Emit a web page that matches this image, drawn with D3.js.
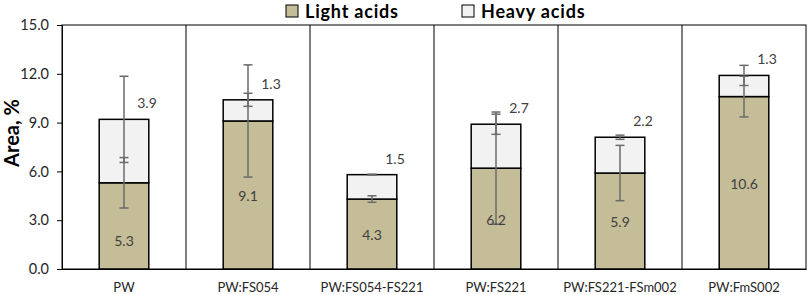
<!DOCTYPE html>
<html>
<head>
<meta charset="utf-8">
<script src="https://cdn.jsdelivr.net/npm/d3@7"></script>
<style>
  html, body { margin: 0; padding: 0; background: #fff; }
  svg { display: block; font-family: Lato, "Open Sans", sans-serif; }
</style>
</head>
<body>
<svg id="chart" width="809" height="295"></svg>
<script>
const categories = ["PW", "PW:FS054", "PW:FS054-FS221", "PW:FS221", "PW:FS221-FSm002", "PW:FmS002"];
const lightAcids = [5.3, 9.1, 4.3, 6.2, 5.9, 10.6];
const heavyAcids = [3.9, 1.3, 1.5, 2.7, 2.2, 1.3];
const lightErr = [1.55, 3.45, 0.2, 3.45, 1.7, 1.25];
const heavyErr = [2.65, 0.4, 0.03, 0.62, 0.13, 0.62];
const lightLabelAt = [1.7, 4.5, 2.1, 3.0, 2.9, 5.2];
const yTicks = [0, 3, 6, 9, 12, 15];
const seriesNames = ["Light acids", "Heavy acids"];

const colors = { light: "#c4bd97", heavy: "#f2f2f2" };

const svg = d3.select("#chart");
const pLeft = 62, pRight = 806, pTop = 25, pBottom = 269;

const x = d3.scaleBand().domain(categories).range([pLeft, pRight]).padding(0);
const y = d3.scaleLinear().domain([0, 15]).range([pBottom, pTop]);
const bw = x.bandwidth() * 0.4;

// frame
svg.append("rect").attr("x", pLeft).attr("y", pTop)
  .attr("width", pRight - pLeft).attr("height", pBottom - pTop)
  .attr("fill", "none").attr("stroke", "#000").attr("stroke-width", 1);

// group separators
svg.selectAll("line.sep").data(categories.slice(1)).enter().append("line")
  .attr("class", "sep")
  .attr("x1", d => x(d)).attr("x2", d => x(d))
  .attr("y1", pTop).attr("y2", pBottom)
  .attr("stroke", "#000").attr("stroke-width", 1);

// y axis
const yAxis = d3.axisLeft(y).tickValues(yTicks).tickFormat(d3.format(".1f")).tickSize(5).tickPadding(8);
const gy = svg.append("g").attr("transform", `translate(${pLeft},0)`).call(yAxis);
gy.select(".domain").attr("stroke", "#000");
gy.selectAll(".tick line").attr("stroke", "#000");
gy.selectAll(".tick text").attr("font-size", 14.5).attr("fill", "#262626").attr("font-family", "Lato, sans-serif");

// x labels
const xAxis = d3.axisBottom(x).tickSize(0).tickPadding(14);
const gx = svg.append("g").attr("transform", `translate(0,${pBottom})`).call(xAxis);
gx.select(".domain").attr("stroke", "#000");
gx.selectAll(".tick text").attr("font-size", 13).attr("fill", "#262626").attr("font-family", "Lato, sans-serif");

// bars
const data = categories.map((c, i) => ({ c, l: lightAcids[i], h: heavyAcids[i], le: lightErr[i], he: heavyErr[i], la: lightLabelAt[i] }));

const g = svg.append("g");
g.selectAll("rect.light").data(data).enter().append("rect")
  .attr("x", d => x(d.c) + x.bandwidth() / 2 - bw / 2)
  .attr("width", bw)
  .attr("y", d => y(d.l))
  .attr("height", d => y(0) - y(d.l))
  .attr("fill", colors.light).attr("stroke", "#000").attr("stroke-width", 1.5);

g.selectAll("rect.heavy").data(data).enter().append("rect")
  .attr("x", d => x(d.c) + x.bandwidth() / 2 - bw / 2)
  .attr("width", bw)
  .attr("y", d => y(d.l + d.h))
  .attr("height", d => y(d.l) - y(d.l + d.h))
  .attr("fill", colors.heavy).attr("stroke", "#000").attr("stroke-width", 1.5);

// error bars
function errBar(cx, center, err) {
  const eg = svg.append("g").attr("stroke", "#6b6b6b").attr("stroke-width", 1.5);
  eg.append("line").attr("x1", cx).attr("x2", cx).attr("y1", y(center - err)).attr("y2", y(center + err));
  [center - err, center + err].forEach(v => {
    eg.append("line").attr("x1", cx - 4.5).attr("x2", cx + 4.5).attr("y1", y(v)).attr("y2", y(v));
  });
}
data.forEach(d => {
  const cx = x(d.c) + x.bandwidth() / 2;
  errBar(cx, d.l, d.le);
  errBar(cx, d.l + d.h, d.he);
});

// labels
svg.selectAll("text.ll").data(data).enter().append("text")
  .attr("x", d => x(d.c) + x.bandwidth() / 2)
  .attr("y", d => y(d.la))
  .attr("dy", "0.35em")
  .attr("text-anchor", "middle")
  .attr("font-size", 14).attr("fill", "#404040")
  .text(d => d3.format(".1f")(d.l));

svg.selectAll("text.hl").data(data).enter().append("text")
  .attr("x", d => x(d.c) + x.bandwidth() / 2 + 23)
  .attr("y", d => y(d.l + d.h) - 16)
  .attr("dy", "0.35em")
  .attr("text-anchor", "middle")
  .attr("font-size", 14).attr("fill", "#404040")
  .text(d => d3.format(".1f")(d.h));

// y title
svg.append("text")
  .attr("transform", "translate(19,133) rotate(-90)")
  .attr("text-anchor", "middle")
  .attr("font-size", 20).attr("font-weight", "bold").attr("fill", "#000")
  .text("Area, %");

// legend
const legendX = [286, 462];
const legendColors = [colors.light, colors.heavy];
const lg = svg.selectAll("g.leg").data(seriesNames).enter().append("g")
  .attr("transform", (d, i) => `translate(${legendX[i]},5)`);
lg.append("rect").attr("width", 12).attr("height", 12)
  .attr("fill", (d, i) => legendColors[i]).attr("stroke", "#000").attr("stroke-width", 1);
lg.append("text").attr("x", 19).attr("y", 13)
  .attr("font-size", 18).attr("font-weight", "bold").attr("fill", "#000")
  .attr("letter-spacing", 0.8)
  .text(d => d);
</script>
</body>
</html>
